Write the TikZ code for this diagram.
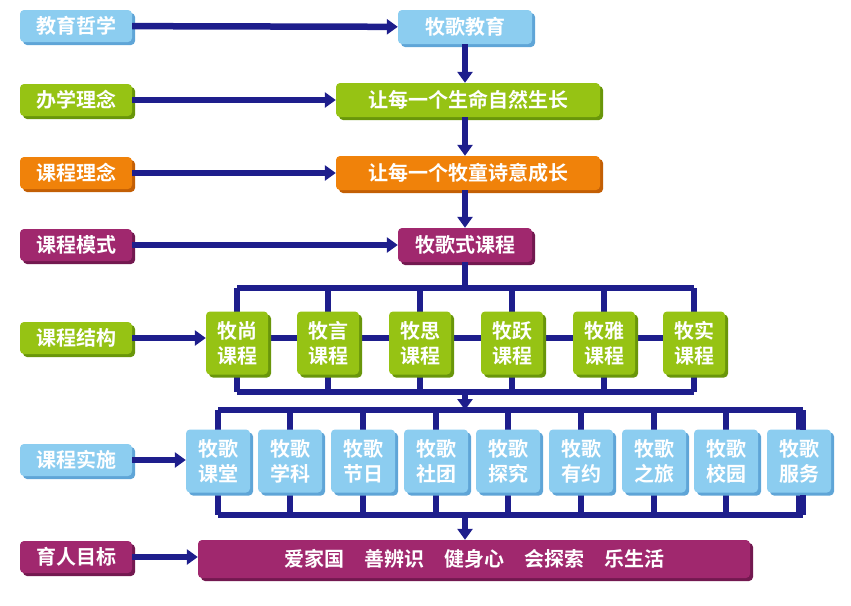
\documentclass[tikz,border=0pt]{standalone}
\usepackage{fontspec}
\newfontfamily\cjk{Noto Sans CJK SC Bold}
\usetikzlibrary{shadows,arrows.meta}
\definecolor{skyb}{RGB}{140,205,240}
\definecolor{skybd}{RGB}{95,165,215}
\definecolor{leaf}{RGB}{150,195,20}
\definecolor{leafd}{RGB}{105,150,10}
\definecolor{amber}{RGB}{240,130,10}
\definecolor{amberd}{RGB}{195,95,5}
\definecolor{plum}{RGB}{160,40,110}
\definecolor{plumd}{RGB}{115,25,80}
\definecolor{navy}{RGB}{30,30,140}
\tikzset{
  tile/.style 2 args={fill=#1, rounded corners=4pt, draw=none, text=white,
    general shadow={fill=#2, shadow xshift=3pt, shadow yshift=-3pt},
    font=\cjk\fontsize{20}{23}\selectfont, inner sep=0pt},
  tag/.style={tile={#1}{#1d}, minimum width=112pt, minimum height=32pt},
  wire/.style={navy, line width=6.5pt},
  go/.style={wire, -{Triangle[length=11pt,width=15pt]}}
}
\begin{document}
\begin{tikzpicture}[x=1pt,y=-1pt]
\useasboundingbox (0,0) rectangle (851,605);
% left labels
\node[tag=skyb]  (t1) at (76,26)  {教育哲学};
\node[tag=leaf]  (t2) at (76,100) {办学理念};
\node[tag=amber] (t3) at (76,173) {课程理念};
\node[tag=plum]  (t4) at (76,245) {课程模式};
\node[tag=leaf]  (t5) at (76,338) {课程结构};
\node[tag=skyb]  (t6) at (76,460) {课程实施};
\node[tag=plum]  (t7) at (76,557) {育人目标};
% main column
\node[tile={skyb}{skybd}, minimum width=134pt, minimum height=34pt] (m1) at (465,27) {牧歌教育};
\node[tile={leaf}{leafd}, minimum width=264pt, minimum height=34pt] (m2) at (468,100) {让每一个生命自然生长};
\node[tile={amber}{amberd}, minimum width=264pt, minimum height=34pt] (m3) at (468,173) {让每一个牧童诗意成长};
\node[tile={plum}{plumd}, minimum width=134pt, minimum height=34pt] (m4) at (465,245) {牧歌式课程};
\node[tile={plum}{plumd}, minimum width=552pt, minimum height=38pt] (goal) at (474,559) {爱家国\hspace{20pt}善辨识\hspace{20pt}健身心\hspace{20pt}会探索\hspace{20pt}乐生活};
% bus wires
\coordinate (b1) at (465,288);
\coordinate (b2) at (465,392);
\coordinate (b3) at (465,410);
\coordinate (b4) at (465,515);
\draw[wire] (237,288) -- (694,288);
\draw[wire] (237,392) -- (694,392);
\draw[wire] (218,410) -- (803,410);
\draw[wire] (218,515) -- (803,515);
\draw[wire] (237,338) -- (694,338);
% course boxes
\foreach \n/\x/\t in {1/237/尚,2/328/言,3/420/思,4/512/跃,5/604/雅,6/694/实}{
  \draw[wire] (\x,288) -- (\x,392);
  \node[tile={leaf}{leafd}, minimum width=62pt, minimum height=63pt, align=center] (c\n) at (\x,343) {牧\t\\[2pt]课程};
}
% practice boxes
\foreach \n/\x/\t in {1/218/课堂,2/290/学科,3/363/节日,4/436/社团,5/508/探究,6/581/有约,7/654/之旅,8/726/校园,9/799/服务}{
  \draw[wire] (\x,410) -- (\x,515);
  \node[tile={skyb}{skybd}, minimum width=64pt, minimum height=63pt, align=center] (p\n) at (\x,461) {牧歌\\[2pt]\t};
}
\draw[wire] (803,410) -- (803,430) (803,495) -- (803,515);
% vertical arrows
\draw[go] (m1) -- (m1 |- m2.north);
\draw[go] (m2.south -| m1) -- (m1 |- m3.north);
\draw[go] (m3.south -| m1) -- (m4);
\draw[wire] (m4) -- (b1);
\draw[go] (b2) -- (b3);
\draw[go] (b4) -- (b4 |- goal.north);
% horizontal arrows
\draw[go] (t1) -- (m1);
\draw[go] (t2) -- (t2 -| m2.west);
\draw[go] (t3) -- (t3 -| m3.west);
\draw[go] (t4) -- (m4);
\draw[go] (t5) -- (t5 -| c1.west);
\draw[go] (t6) -- (t6 -| p1.west);
\draw[go] (t7) -- (t7 -| goal.west);
\end{tikzpicture}
\end{document}
